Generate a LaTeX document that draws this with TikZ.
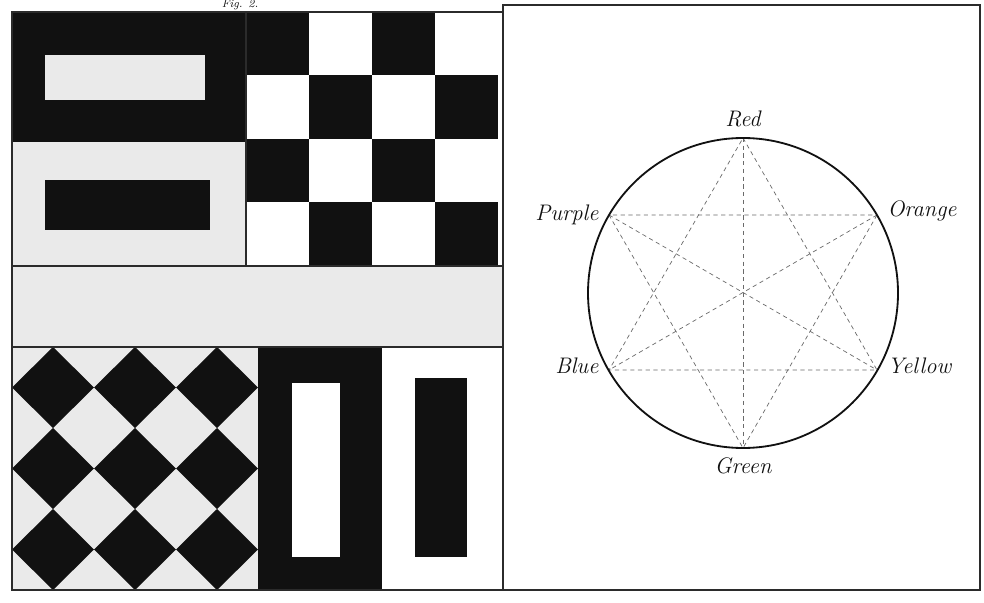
\documentclass[tikz,border=0pt]{standalone}
\usepackage{xcolor}
\definecolor{plateink}{HTML}{111111}
\definecolor{platepale}{HTML}{EAEAEA}
\definecolor{platerule}{HTML}{2B2B2B}
\definecolor{platedash}{HTML}{6A6A6A}

\begin{document}
\begin{tikzpicture}[
  x=0.025cm,
  y=-0.025cm,
  every node/.style={font=\fontsize{16}{18}\selectfont\itshape, text=plateink},
  rule/.style={platerule, line width=0.9pt},
  chord/.style={platedash, line width=0.5pt, dash pattern=on 3pt off 2.5pt}
]
  \useasboundingbox[fill=white] (0,0) rectangle (984,603);

  % left plate: pale grounds
  \fill[platepale] (12,142) rectangle (246,266);
  \fill[platepale] (12,266) rectangle (503,347);
  \fill[platepale] (12,347) rectangle (258,590);

  % framed bars, upper left
  \fill[plateink] (12,12) rectangle (246,142);
  \fill[platepale] (45,55) rectangle (205,100);
  \fill[plateink] (45,180) rectangle (210,230);

  % chequers
  \foreach \i/\j in {0/0,2/0,1/1,3/1,0/2,2/2,1/3,3/3}
    \fill[plateink] (246+63*\i,12+63.5*\j) rectangle ++(63,63.5);

  % lozenges
  \foreach \i in {0,1,2}
    \foreach \j in {0,1,2}
      \fill[plateink] (53+82*\i,347+81*\j) -- ++(41,40.5) -- ++(-41,40.5) -- ++(-41,-40.5) -- cycle;

  % upright bars, lower right
  \fill[plateink] (258,347) rectangle (382,590);
  \fill[white] (292,383) rectangle (340,557);
  \fill[plateink] (415,378) rectangle (467,557);

  \draw[rule] (12,12) -- (12,590) -- (980,590) -- (980,5) -- (503,5) -- (503,12) -- cycle;
  \draw[rule] (503,5) -- (503,590);
  \draw[rule] (246,12) -- (246,266);
  \draw[rule] (12,266) -- (503,266);
  \draw[rule] (12,347) -- (503,347);

  \node (figlabel) [font=\footnotesize\itshape, inner sep=0pt] at (240,5) {Fig. 2.};

  % colour circle
  \coordinate (hub) at (743,293);
  \coordinate (red) at (743,138);
  \coordinate (orange) at (877,215);
  \coordinate (yellow) at (877,370);
  \coordinate (green) at (743,448);
  \coordinate (blue) at (609,370);
  \coordinate (purple) at (609,215);

  \draw[chord] (red) -- (yellow) -- (blue) -- cycle;
  \draw[chord] (orange) -- (green) -- (purple) -- cycle;
  \draw[chord] (red) -- (green);
  \draw[chord] (orange) -- (blue);
  \draw[chord] (purple) -- (yellow);
  \draw[plateink, line width=1.3pt] (hub) circle (155);

  \node (redlabel) [above=4pt] at (red) {Red};
  \node (orangelabel) [right=4pt, yshift=3pt] at (orange) {Orange};
  \node (yellowlabel) [right=4pt, yshift=3pt] at (yellow) {Yellow};
  \node (greenlabel) [below=3pt] at (green) {Green};
  \node (bluelabel) [left=4pt, yshift=3pt] at (blue) {Blue};
  \node (purplelabel) [left=4pt] at (purple) {Purple};
\end{tikzpicture}
\end{document}
